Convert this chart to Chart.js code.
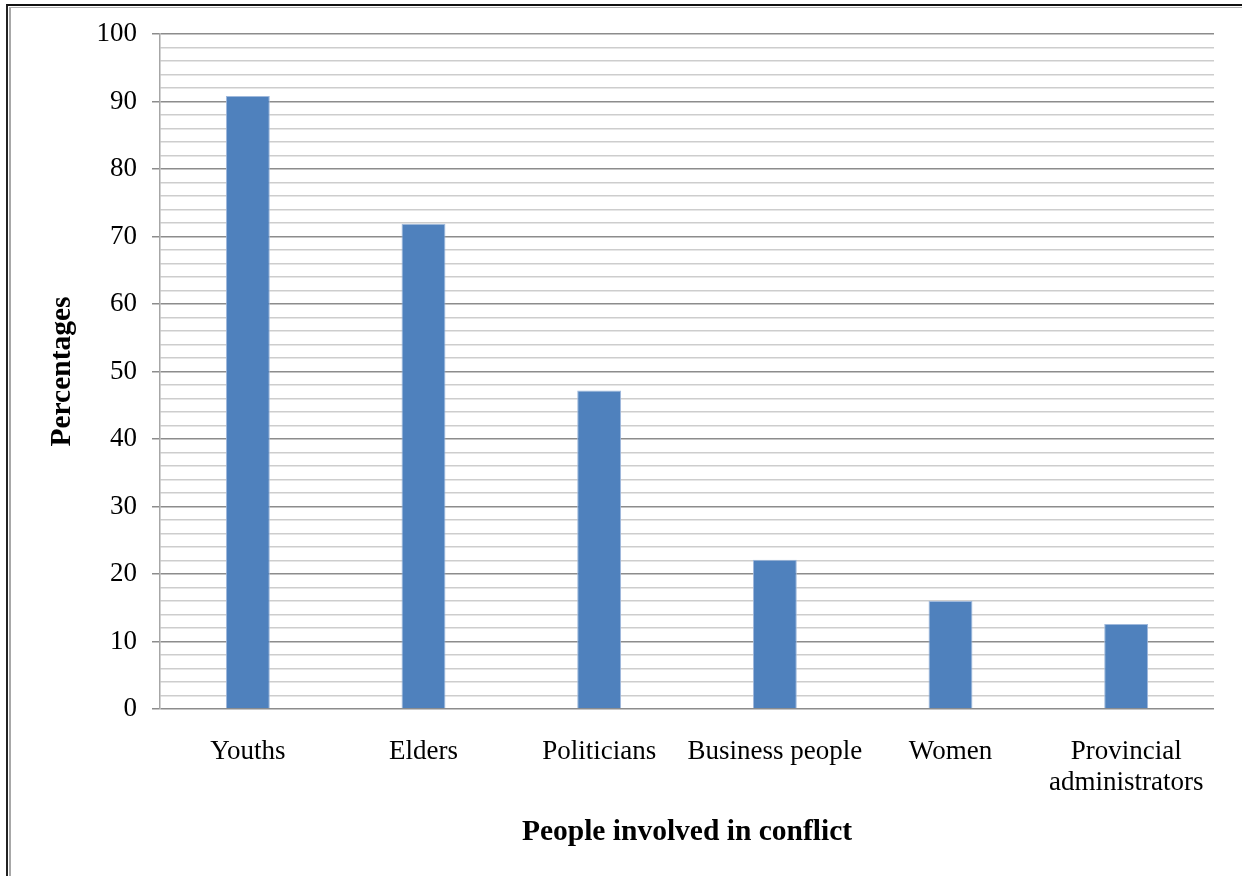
<!DOCTYPE html>
<html>
<head>
<meta charset="utf-8">
<script src="https://cdn.jsdelivr.net/npm/chart.js@4/dist/chart.umd.min.js"></script>
<style>
  html, body { margin: 0; padding: 0; background: #fff; }
  #wrap { position: relative; width: 1242px; height: 876px; overflow: hidden; }
  .frame-outer { position: absolute; left: 6px; top: 4px; right: -10px; bottom: -10px;
                 border-top: 2px solid #111; border-left: 2px solid #222; }
  .frame-inner { position: absolute; left: 9px; top: 7px; right: -10px; bottom: -10px;
                 border-top: 1px solid #b0b0b0; border-left: 2px solid #a8a8a8; }
  canvas { position: absolute; left: 0; top: 0; }
</style>
</head>
<body>
<div id="wrap">
  <div class="frame-outer"></div>
  <div class="frame-inner"></div>
  <canvas id="chart" width="1242" height="876"></canvas>
</div>
<script>
// Groups involved in conflict and the share of respondents naming each (%)
const categories = ['Youths', 'Elders', 'Politicians', 'Business people', 'Women', ['Provincial', 'administrators']];
const percentages = [90.8, 71.9, 47.2, 22.1, 16.0, 12.6];

// Value axis: labelled every 10, faint minor lines every 2
const yMin = 0;
const yMax = 100;
const yMajorStep = 10;
const yMinorStep = 2;

const xTitle = 'People involved in conflict';
const yTitle = 'Percentages';

const serif = "'Liberation Serif', 'Times New Roman', serif";
const isMajor = v => Math.abs(v % yMajorStep) < 1e-9;

new Chart(document.getElementById('chart'), {
  type: 'bar',
  data: {
    labels: categories,
    datasets: [{
      data: percentages,
      backgroundColor: '#4f81bd',
      borderColor: '#9fb9dc',
      borderWidth: 1,
      barPercentage: 0.25,
      categoryPercentage: 1
    }]
  },
  options: {
    responsive: false,
    animation: false,
    devicePixelRatio: 1,
    layout: { padding: { top: 34, right: 28, left: 0, bottom: 0 } },
    plugins: {
      legend: { display: false },
      tooltip: { enabled: false }
    },
    scales: {
      x: {
        type: 'category',
        grid: { display: false },
        border: { display: false },
        ticks: {
          color: '#000',
          font: { family: serif, size: 27, lineHeight: 1.15 },
          padding: 19,
          maxRotation: 0,
          autoSkip: false
        },
        title: {
          display: true,
          text: xTitle,
          color: '#000',
          font: { family: serif, size: 29.5, weight: 'bold', lineHeight: 1.2 },
          padding: { top: 0, bottom: 26 }
        },
        afterFit: s => { s.height = 876 - 709; }
      },
      y: {
        min: yMin,
        max: yMax,
        ticks: {
          stepSize: yMinorStep,
          autoSkip: false,
          color: '#000',
          padding: 15,
          font: { family: serif, size: 27 },
          callback: v => (isMajor(v) ? v : '')
        },
        grid: {
          color: c => (isMajor(c.tick.value) ? '#8c8c8c' : '#cdcdcd'),
          tickColor: c => (isMajor(c.tick.value) ? '#8c8c8c' : 'rgba(0,0,0,0)'),
          lineWidth: 1.5,
          tickLength: 8,
          drawTicks: true
        },
        border: { display: true, color: '#a6a6a6', width: 1.5 },
        title: {
          display: true,
          text: yTitle,
          color: '#000',
          font: { family: serif, size: 29.5, weight: 'bold', lineHeight: 1.2 },
          padding: { top: 45, bottom: 0 }
        },
        afterFit: s => { s.width = 160; }
      }
    }
  }
});
</script>
</body>
</html>
